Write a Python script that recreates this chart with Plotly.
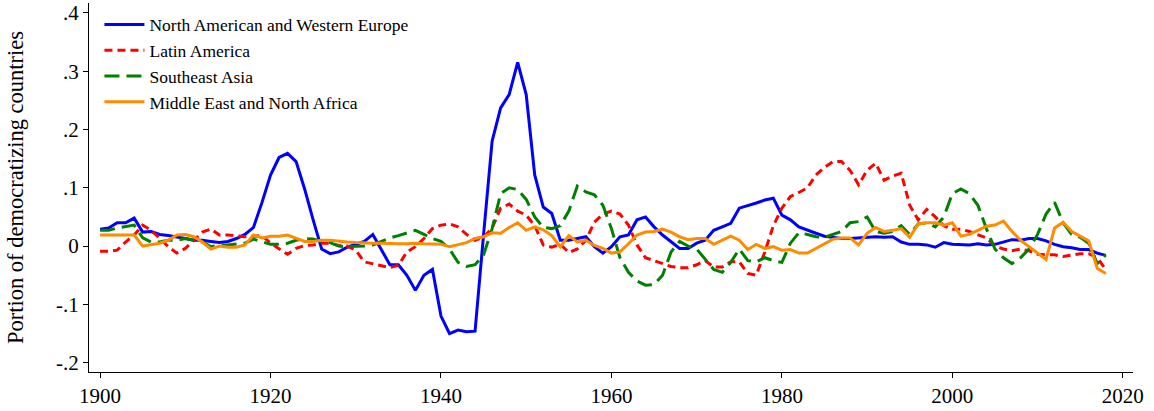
import plotly.graph_objects as go

years = list(range(1900, 2019))

na_we = [0.029, 0.031, 0.040, 0.040, 0.048, 0.024, 0.025, 0.020, 0.018, 0.016,
         0.013, 0.010, 0.010, 0.008, 0.006, 0.008, 0.013, 0.020, 0.032, 0.075,
         0.122, 0.152, 0.159, 0.145, 0.098, 0.045, -0.005, -0.013, -0.010, -0.002,
         0.003, 0.008, 0.020, -0.005, -0.032, -0.032, -0.050, -0.076, -0.050, -0.040,
         -0.120, -0.150, -0.144, -0.147, -0.146, 0.020, 0.180, 0.237, 0.260, 0.315,
         0.260, 0.122, 0.067, 0.056, 0.010, 0.010, 0.013, 0.016, -0.001, -0.012,
         -0.001, 0.016, 0.019, 0.045, 0.050, 0.033, 0.019, 0.007, -0.004, -0.004,
         0.005, 0.010, 0.027, 0.033, 0.039, 0.065, 0.069, 0.074, 0.079, 0.082,
         0.053, 0.045, 0.033, 0.027, 0.022, 0.017, 0.015, 0.013, 0.013, 0.014,
         0.016, 0.016, 0.015, 0.016, 0.007, 0.003, 0.003, 0.002, -0.002, 0.006,
         0.003, 0.002, 0.002, 0.004, 0.002, 0.003, 0.007, 0.011, 0.010, 0.013,
         0.013, 0.009, 0.003, -0.001, -0.003, -0.006, -0.006, -0.012, -0.016]

latin = [-0.009, -0.009, -0.007, 0.007, 0.019, 0.036, 0.027, 0.013, -0.001, -0.012,
         -0.004, 0.010, 0.024, 0.029, 0.019, 0.019, 0.018, 0.016, 0.017, 0.018,
         0.005, -0.004, -0.014, -0.004, 0.001, 0.002, 0.005, 0.005, 0.001, 0.000,
         -0.007, -0.027, -0.030, -0.034, -0.037, -0.033, -0.010, -0.001, 0.013, 0.030,
         0.036, 0.038, 0.033, 0.020, 0.010, 0.015, 0.031, 0.065, 0.072, 0.060,
         0.053, 0.035, 0.002, -0.002, 0.003, -0.011, -0.005, 0.010, 0.041, 0.055,
         0.060, 0.055, 0.036, 0.002, -0.020, -0.025, -0.030, -0.035, -0.037, -0.037,
         -0.032, -0.025, -0.036, -0.036, -0.027, -0.027, -0.047, -0.050, -0.010, 0.035,
         0.065, 0.085, 0.092, 0.100, 0.122, 0.135, 0.145, 0.145, 0.130, 0.105,
         0.130, 0.142, 0.113, 0.120, 0.125, 0.070, 0.045, 0.063, 0.050, 0.035,
         0.029, 0.029, 0.025, 0.020, 0.014, 0.000, -0.005, -0.008, -0.005, -0.008,
         -0.014, -0.015, -0.015, -0.018, -0.015, -0.013, -0.013, -0.020, -0.040]

se_asia = [0.027, 0.027, 0.031, 0.033, 0.036, 0.014, 0.007, 0.007, 0.010, 0.010,
           0.013, 0.010, 0.007, -0.001, 0.002, 0.002, 0.003, 0.005, 0.012, 0.007,
           0.003, 0.003, 0.005, 0.010, 0.013, 0.012, 0.008, 0.006, 0.000, -0.001,
           -0.001, 0.000, 0.002, 0.008, 0.014, 0.018, 0.023, 0.027, 0.020, 0.013,
           0.008, -0.005, -0.028, -0.035, -0.032, -0.015, 0.030, 0.090, 0.100, 0.097,
           0.080, 0.050, 0.032, 0.030, 0.035, 0.060, 0.103, 0.093, 0.088, 0.070,
           0.030, -0.020, -0.045, -0.060, -0.067, -0.066, -0.050, -0.010, 0.008, 0.000,
           -0.005, -0.022, -0.040, -0.045, -0.028, -0.005, -0.025, -0.027, -0.020, -0.025,
           -0.028, 0.005, 0.023, 0.020, 0.016, 0.015, 0.020, 0.025, 0.040, 0.042,
           0.050, 0.025, 0.022, 0.025, 0.035, 0.020, 0.038, 0.040, 0.033, 0.050,
           0.090, 0.098, 0.090, 0.070, 0.030, -0.005, -0.020, -0.030, -0.020, -0.005,
           0.020, 0.055, 0.075, 0.040, 0.020, 0.015, 0.005, -0.030, -0.015]

mena = [0.019, 0.019, 0.019, 0.019, 0.019, 0.000, 0.002, 0.005, 0.010, 0.019,
        0.020, 0.016, 0.007, -0.005, 0.000, -0.002, -0.002, 0.002, 0.019, 0.014,
        0.017, 0.017, 0.019, 0.014, 0.008, 0.008, 0.010, 0.010, 0.008, 0.007,
        0.006, 0.005, 0.005, 0.005, 0.004, 0.004, 0.004, 0.005, 0.004, 0.003,
        0.003, -0.001, 0.002, 0.006, 0.013, 0.016, 0.023, 0.022, 0.032, 0.040,
        0.027, 0.033, 0.028, 0.018, -0.001, 0.018, 0.007, 0.010, 0.001, -0.004,
        -0.012, -0.010, 0.004, 0.019, 0.024, 0.025, 0.029, 0.024, 0.016, 0.011,
        0.013, 0.013, 0.003, 0.010, 0.017, 0.010, -0.006, 0.003, -0.004, -0.001,
        -0.007, -0.006, -0.012, -0.012, -0.004, 0.005, 0.012, 0.014, 0.014, 0.002,
        0.022, 0.032, 0.025, 0.027, 0.030, 0.015, 0.038, 0.040, 0.040, 0.036,
        0.040, 0.017, 0.020, 0.027, 0.034, 0.036, 0.043, 0.025, 0.010, -0.001,
        -0.012, -0.023, 0.031, 0.041, 0.025, 0.017, 0.009, -0.038, -0.047]

series_names = ["North American and Western Europe", "Latin America",
                "Southeast Asia", "Middle East and North Africa"]

ytick_vals = [-0.2, -0.1, 0, 0.1, 0.2, 0.3, 0.4]
ytick_text = ["-.2", "-.1", "0", ".1", ".2", ".3", ".4"]
xtick_vals = [1900, 1920, 1940, 1960, 1980, 2000, 2020]

styles = [
    dict(color="#0000ff", width=3, dash="solid"),
    dict(color="#ff0000", width=3, dash="8px,5px"),
    dict(color="#008000", width=3, dash="15px,7px"),
    dict(color="#ff8c00", width=3, dash="solid"),
]

fig = go.Figure()
for name, vals, st in zip(series_names, [na_we, latin, se_asia, mena], styles):
    fig.add_trace(go.Scatter(x=years, y=vals, mode="lines", name=name, line=st))

font = "Liberation Serif, Times New Roman, serif"
fig.update_layout(
    width=1154, height=411,
    margin=dict(l=89, r=21, t=3, b=39),
    paper_bgcolor="white", plot_bgcolor="white",
    font=dict(family=font, color="black", size=22),
    showlegend=True,
    legend=dict(x=0.01, y=0.99, xanchor="left", yanchor="top",
                bgcolor="rgba(0,0,0,0)", font=dict(family=font, size=17.5),
                tracegroupgap=0, itemwidth=40),
    xaxis=dict(range=[1898.7, 2021.2], tickvals=xtick_vals, automargin=False,
               showgrid=False, zeroline=False, showline=True, linecolor="black",
               linewidth=1, ticks="outside", ticklen=5, tickcolor="black",
               tickfont=dict(size=21)),
    yaxis=dict(range=[-0.216, 0.417], tickvals=ytick_vals, ticktext=ytick_text,
               automargin=False,
               showgrid=False, zeroline=False, showline=True, linecolor="black",
               linewidth=1, ticks="outside", ticklen=5, tickcolor="black",
               tickfont=dict(size=21),
               title=dict(text="Portion of democratizing countries",
                          font=dict(size=22.5), standoff=26)),
)

fig.write_html("out.html", config={"displayModeBar": False},
               post_script="document.body.style.margin='0px';")
